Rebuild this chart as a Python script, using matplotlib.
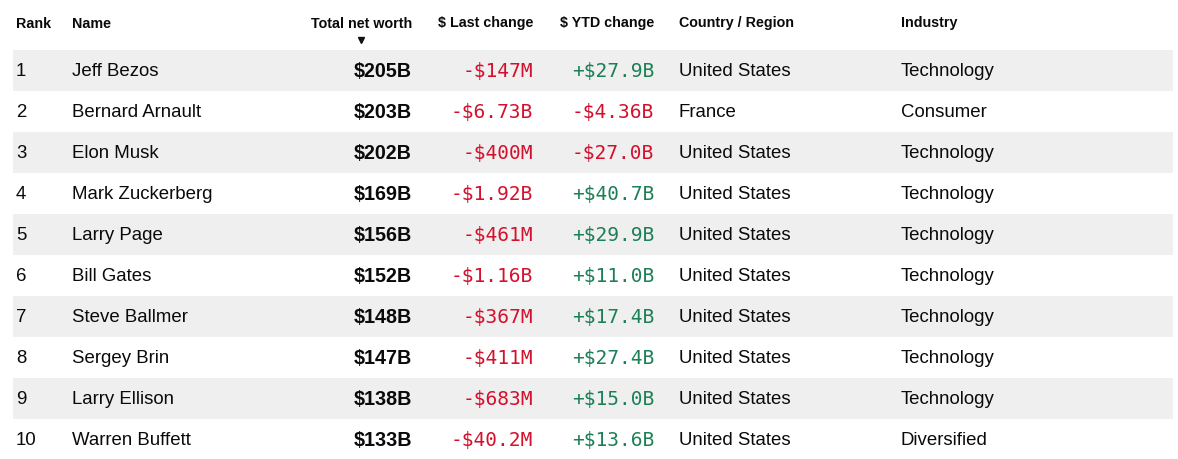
import matplotlib
matplotlib.use("Agg")
import matplotlib.pyplot as plt
from matplotlib.patches import Rectangle

ranks = [1, 2, 3, 4, 5, 6, 7, 8, 9, 10]
names = ["Jeff Bezos", "Bernard Arnault", "Elon Musk", "Mark Zuckerberg", "Larry Page",
         "Bill Gates", "Steve Ballmer", "Sergey Brin", "Larry Ellison", "Warren Buffett"]
net_worth = ["$205B", "$203B", "$202B", "$169B", "$156B", "$152B", "$148B", "$147B", "$138B", "$133B"]
last_change = ["-$147M", "-$6.73B", "-$400M", "-$1.92B", "-$461M", "-$1.16B", "-$367M", "-$411M", "-$683M", "-$40.2M"]
ytd_change = ["+$27.9B", "-$4.36B", "-$27.0B", "+$40.7B", "+$29.9B", "+$11.0B", "+$17.4B", "+$27.4B", "+$15.0B", "+$13.6B"]
countries = ["United States", "France", "United States", "United States", "United States",
             "United States", "United States", "United States", "United States", "United States"]
industries = ["Technology", "Consumer", "Technology", "Technology", "Technology",
              "Technology", "Technology", "Technology", "Technology", "Diversified"]
headers = ["Rank", "Name", "Total net worth", "$ Last change", "$ YTD change", "Country / Region", "Industry"]

W, H = 1178, 460
fig = plt.figure(figsize=(W / 100, H / 100), dpi=100)
ax = fig.add_axes([0, 0, 1, 1])
ax.set_xlim(0, W)
ax.set_ylim(H, 0)
ax.axis("off")

SANS = ["Liberation Sans", "DejaVu Sans"]
MONO = ["DejaVu Sans Mono"]
RED = "#d4102c"
GREEN = "#1b8055"
TXT = "#0a0a0a"

# column anchors (x, ha)
cols = [(16, "left"), (72, "left"), (412, "right"), (533, "right"), (654, "right"), (679, "left"), (901, "left")]

header_y = 23.5
for (x, ha), h in zip(cols, headers):
    ax.text(x, header_y, h, ha=ha, va="center", fontsize=10.3, fontweight="bold",
            family=SANS, color=TXT)
ax.plot([361], [40.5], marker="v", markersize=4.3, color="#111111", linestyle="none")

row_top0 = 51
row_h = 41
for i in range(len(ranks)):
    top = row_top0 + row_h * i
    cy = top + row_h / 2
    if i % 2 == 0:
        ax.add_patch(Rectangle((13, top), 1160, row_h - 0.5, facecolor="#efefef",
                               edgecolor="none", zorder=0))
    ax.text(cols[0][0], cy, str(ranks[i]), ha="left", va="center", fontsize=13.4, family=SANS, color=TXT)
    ax.text(cols[1][0], cy, names[i], ha="left", va="center", fontsize=13.4, family=SANS, color=TXT)
    ax.text(cols[2][0], cy, net_worth[i], ha="right", va="center", fontsize=14.2, fontweight="bold",
            family=SANS, color=TXT)
    lc = RED if last_change[i].startswith("-") else GREEN
    ax.text(cols[3][0], cy, last_change[i], ha="right", va="center", fontsize=14, family=MONO, color=lc)
    yc = RED if ytd_change[i].startswith("-") else GREEN
    ax.text(cols[4][0], cy, ytd_change[i], ha="right", va="center", fontsize=14, family=MONO, color=yc)
    ax.text(cols[5][0], cy, countries[i], ha="left", va="center", fontsize=13.4, family=SANS, color=TXT)
    ax.text(cols[6][0], cy, industries[i], ha="left", va="center", fontsize=13.4, family=SANS, color=TXT)

fig.savefig("out.png", dpi=100, facecolor="white")
